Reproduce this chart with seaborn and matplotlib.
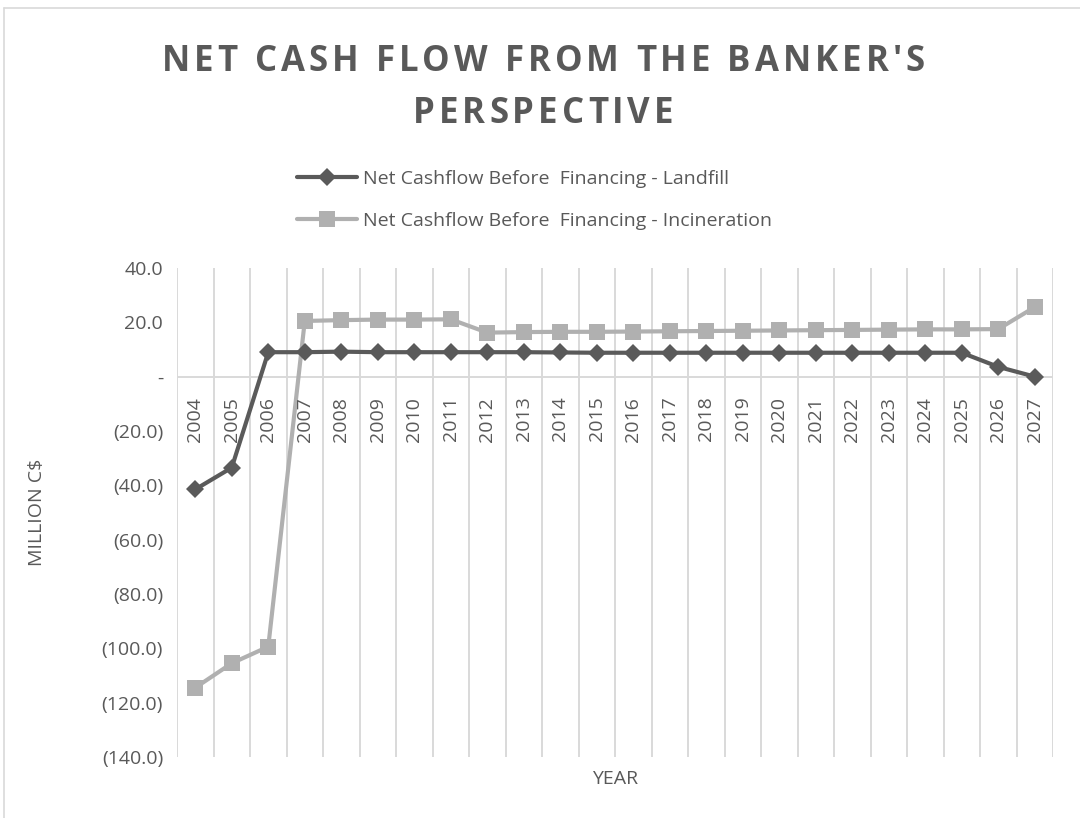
import numpy as np
import pandas as pd
import matplotlib
matplotlib.use("Agg")
import matplotlib.pyplot as plt
import seaborn as sns
from matplotlib.ticker import FuncFormatter
from matplotlib.font_manager import FontProperties, findfont
from matplotlib.ft2font import FT2Font
from matplotlib.transforms import ScaledTranslation
from matplotlib.lines import Line2D

# ---- data (million C$) ----
years = [str(y) for y in range(2004, 2028)]
landfill = [-41.5, -33.5, 9.0, 9.0, 9.2, 9.0, 9.0, 9.0, 9.0, 9.0, 8.9, 8.8,
            8.8, 8.8, 8.8, 8.8, 8.8, 8.8, 8.8, 8.8, 8.8, 8.8, 3.6, 0.0]
incineration = [-114.5, -105.5, -99.4, 20.5, 20.8, 21.0, 21.0, 21.1, 16.2, 16.4,
                16.5, 16.5, 16.6, 16.7, 16.8, 16.9, 17.0, 17.1, 17.2, 17.3,
                17.4, 17.4, 17.5, 25.6]
series_names = ["Net Cashflow Before  Financing - Landfill",
                "Net Cashflow Before  Financing - Incineration"]
y_ticks = list(range(-140, 41, 20))

TEXT = "#595959"
GRID = "#d9d9d9"
DARK = "#5a5a5a"
LIGHT = "#b0b0b0"

sns.set_theme(style="white")
plt.rcParams["font.family"] = ["Open Sans", "DejaVu Sans"]
plt.rcParams["text.color"] = TEXT
plt.rcParams["axes.labelcolor"] = TEXT
plt.rcParams["ytick.color"] = TEXT

df = pd.DataFrame({"idx": np.arange(len(years)), "year": years,
                   "landfill": landfill, "incineration": incineration})

fig = plt.figure(figsize=(10.8, 8.18), dpi=100)
ax = fig.add_axes([0.1639, 0.0746, 0.8111, 0.5978])

sns.lineplot(data=df, x="idx", y="landfill", ax=ax, color=DARK, linewidth=3.0,
             marker="D", markersize=9.5, markeredgewidth=0, label=series_names[0],
             zorder=4)
sns.lineplot(data=df, x="idx", y="incineration", ax=ax, color=LIGHT, linewidth=3.0,
             marker="s", markersize=12, markeredgewidth=0, label=series_names[1],
             zorder=3)

n = len(years)
ax.set_xlim(-0.5, n - 0.5)
ax.set_ylim(min(y_ticks), max(y_ticks))

# category boundaries carry the vertical gridlines
ax.set_xticks(np.arange(-0.5, n, 1.0))
ax.set_xticklabels([])
ax.tick_params(axis="x", length=0)
ax.grid(axis="x", color=GRID, linewidth=1.4)
ax.grid(axis="y", visible=False)
ax.axhline(0, color=GRID, linewidth=1.4, zorder=1)
for sp in ax.spines.values():
    sp.set_visible(False)


def acct(v, _pos):
    if abs(v) < 1e-9:
        return "-"
    if v < 0:
        return f"({abs(v):.1f})"
    return f"{v:.1f}"


ax.set_yticks(y_ticks)
ax.yaxis.set_major_formatter(FuncFormatter(acct))
ax.tick_params(axis="y", length=0, pad=10, labelsize=14)

# year labels sit just under the zero line
shift = ScaledTranslation(0, -20 / 100, fig.dpi_scale_trans)
for i, yr in enumerate(years):
    ax.text(i, 0, yr, transform=ax.transData + shift, rotation=90,
            ha="center", va="top", fontsize=14, color=TEXT)

ax.set_xlabel("YEAR", fontsize=14, labelpad=6)
ax.set_ylabel("MILLION C$", fontsize=14, va="center")
ax.yaxis.set_label_coords(-0.160, 0.5)

leg = ax.legend(loc="upper left", bbox_to_anchor=(0.275, 1 - 170 / 818),
                bbox_transform=fig.transFigure, frameon=False, fontsize=14,
                handlelength=3.1, handletextpad=0.3, labelspacing=1.22,
                borderpad=0, borderaxespad=0)
for t in leg.get_texts():
    t.set_color(TEXT)


def tracked_title(x, y_base, s, size, tracking):
    fp = FontProperties(family="Open Sans", weight="bold", size=size)
    ft = FT2Font(findfont(fp))
    ft.set_size(size, 72)
    adv = [ft.load_char(ord(c)).linearHoriAdvance / 65536 for c in s]
    total = sum(adv) + tracking * (len(s) - 1)
    pos = -total / 2
    for c, a in zip(s, adv):
        tr = fig.transFigure + ScaledTranslation(pos / 72, 0, fig.dpi_scale_trans)
        fig.text(x, y_base, c, transform=tr, fontproperties=fp, ha="left",
                 va="baseline", color=TEXT)
        pos += a + tracking


tracked_title(0.503, 1 - 71 / 818, "NET CASH FLOW FROM THE BANKER'S", 25, 2.9)
tracked_title(0.503, 1 - 123 / 818, "PERSPECTIVE", 25, 2.9)

# chart frame
fig.add_artist(Line2D([4 / 1080, 1.0], [1 - 8 / 818, 1 - 8 / 818],
                      transform=fig.transFigure, color=GRID, linewidth=1.2))
fig.add_artist(Line2D([4 / 1080, 4 / 1080], [0.0, 1 - 8 / 818],
                      transform=fig.transFigure, color=GRID, linewidth=1.2))

fig.savefig("out.png", dpi=100, facecolor="white")
